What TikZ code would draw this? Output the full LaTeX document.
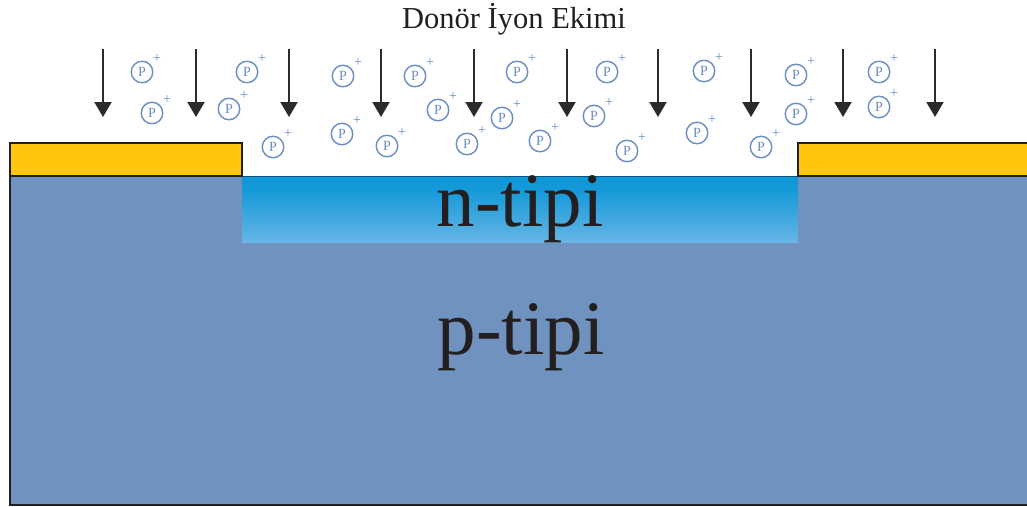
\documentclass[tikz,border=0pt]{standalone}
\usepackage{fontspec}
\setmainfont{Liberation Serif}
\usetikzlibrary{arrows.meta}
\definecolor{subst}{HTML}{7092BF}
\definecolor{oxide}{HTML}{FFC60B}
\definecolor{nblue}{HTML}{0090D5}
\definecolor{nlight}{HTML}{A6CDEF}
\definecolor{ionc}{HTML}{6B8DC2}
\definecolor{ink}{HTML}{231F20}
\definecolor{arrc}{HTML}{2B2B2B}
\pgfdeclareverticalshading{nshade}{100bp}{color(0bp)=(nlight); color(30bp)=(nlight!55!nblue); color(65bp)=(nblue!92!white); color(100bp)=(nblue)}
\tikzset{
  ion/.style={circle, draw=ionc, line width=1.4pt, minimum size=21.5pt, inner sep=0pt,
    text=ionc, font=\fontsize{14}{14}\selectfont},
  plus/.style={text=ionc, inner sep=0pt, font=\fontsize{14}{14}\selectfont},
  implant/.style={draw=arrc, line width=2pt, -{Triangle[length=15pt,width=17pt]}},
  oxbox/.style={fill=oxide, draw=ink, line width=1.5pt},
  big/.style={text=ink, anchor=base, inner sep=0pt, font=\fontsize{77}{77}\selectfont},
}
\begin{document}
\begin{tikzpicture}[x=1pt,y=-1pt]
\useasboundingbox[fill=white] (0,0) rectangle (1027,506);
\clip (0,0) rectangle (1027,506);
% substrate
\fill[subst] (10,176) rectangle (1030,505);
\draw[ink, line width=1.5pt] (1030,505) -- (10,505) -- (10,176);
% n region
\shade[shading=nshade] (242,176) rectangle (798,242);
\draw[nblue!60!black, line width=0.6pt] (242,176.4) -- (798,176.4);
% oxides
\draw[oxbox] (10,143) rectangle (242,176);
\draw[oxbox] (798,143) rectangle (1035,176);
% labels
\node[text=ink, anchor=base, inner sep=0pt, font=\fontsize{30.5}{30.5}\selectfont] (title) at (514,28) {Donör İyon Ekimi};
\node[big] (ntype) at (520,226) {n-tipi};
\node[big] (ptype) at (521,354) {p-tipi};
% arrows
\foreach \x [count=\i] in {103,196,289,381,474,567,658,751,843,935}{
  \coordinate (as\i) at (\x,49);
  \coordinate (ae\i) at (\x,117);
  \draw[implant] (as\i) -- (ae\i);
}
% ions
\foreach \x/\y [count=\i] in {142/72,152/113,247/72,229/109,273/147,343/76,342/134,415/76,438/110,387/146,467/144,502/118,517/72,540/141,607/72,594/116,627/151,704/71,697/133,796/75,796/114,761/147,879/72,879/107}{
  \node[ion] (ion\i) at (\x,\y) {P};
  \node[plus] (pl\i) at ([shift={(15,-13)}]ion\i.center) {+};
}
\end{tikzpicture}
\end{document}
